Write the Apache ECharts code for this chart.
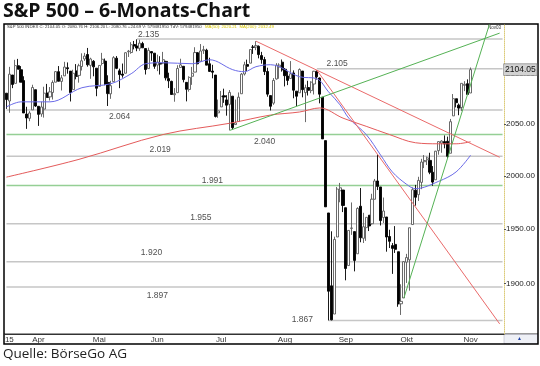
<!DOCTYPE html>
<html><head><meta charset="utf-8">
<script src="https://cdn.jsdelivr.net/npm/echarts@6/dist/echarts.min.js"></script>
<style>html,body{margin:0;padding:0;background:#fff}#c{width:540px;height:366px}</style>
</head><body><div id="c"></div>
<script>
// ---------- DATA ----------
const dates = [
'2015-03-17','2015-03-18','2015-03-19','2015-03-20','2015-03-23','2015-03-24','2015-03-25','2015-03-26','2015-03-27','2015-03-30','2015-03-31',
'2015-04-01','2015-04-02','2015-04-06','2015-04-07','2015-04-08','2015-04-09','2015-04-10','2015-04-13','2015-04-14','2015-04-15','2015-04-16','2015-04-17','2015-04-20','2015-04-21','2015-04-22','2015-04-23','2015-04-24','2015-04-27','2015-04-28','2015-04-29','2015-04-30',
'2015-05-01','2015-05-04','2015-05-05','2015-05-06','2015-05-07','2015-05-08','2015-05-11','2015-05-12','2015-05-13','2015-05-14','2015-05-15','2015-05-18','2015-05-19','2015-05-20','2015-05-21','2015-05-22','2015-05-26','2015-05-27','2015-05-28','2015-05-29',
'2015-06-01','2015-06-02','2015-06-03','2015-06-04','2015-06-05','2015-06-08','2015-06-09','2015-06-10','2015-06-11','2015-06-12','2015-06-15','2015-06-16','2015-06-17','2015-06-18','2015-06-19','2015-06-22','2015-06-23','2015-06-24','2015-06-25','2015-06-26','2015-06-29','2015-06-30',
'2015-07-01','2015-07-02','2015-07-06','2015-07-07','2015-07-08','2015-07-09','2015-07-10','2015-07-13','2015-07-14','2015-07-15','2015-07-16','2015-07-17','2015-07-20','2015-07-21','2015-07-22','2015-07-23','2015-07-24','2015-07-27','2015-07-28','2015-07-29','2015-07-30','2015-07-31',
'2015-08-03','2015-08-04','2015-08-05','2015-08-06','2015-08-07','2015-08-10','2015-08-11','2015-08-12','2015-08-13','2015-08-14','2015-08-17','2015-08-18','2015-08-19','2015-08-20','2015-08-21','2015-08-24','2015-08-25','2015-08-26','2015-08-27','2015-08-28','2015-08-31',
'2015-09-01','2015-09-02','2015-09-03','2015-09-04','2015-09-08','2015-09-09','2015-09-10','2015-09-11','2015-09-14','2015-09-15','2015-09-16','2015-09-17','2015-09-18','2015-09-21','2015-09-22','2015-09-23','2015-09-24','2015-09-25','2015-09-28','2015-09-29','2015-09-30',
'2015-10-01','2015-10-02','2015-10-05','2015-10-06','2015-10-07','2015-10-08','2015-10-09','2015-10-12','2015-10-13','2015-10-14','2015-10-15','2015-10-16','2015-10-19','2015-10-20','2015-10-21','2015-10-22','2015-10-23','2015-10-26','2015-10-27','2015-10-28','2015-10-29','2015-10-30',
'2015-11-02'];
const futureDates = ['2015-11-03','2015-11-04','2015-11-05','2015-11-06','2015-11-09','2015-11-10','2015-11-11','2015-11-12','2015-11-13','2015-11-16','2015-11-17'];

const open = [2080.59,2072.84,2098.69,2090.32,2107.99,2103.94,2093.10,2059.94,2055.78,2064.11,2084.05,
2067.63,2060.03,2064.87,2080.79,2076.94,2081.29,2091.51,2102.03,2092.28,2097.82,2105.96,2102.58,2084.11,2102.82,2098.27,2107.21,2114.76,2119.29,2108.35,2112.49,2105.52,
2087.38,2110.23,2112.63,2091.26,2079.96,2092.13,2115.56,2102.87,2099.62,2100.43,2122.07,2121.30,2129.45,2127.79,2125.55,2130.36,2125.34,2105.13,2122.27,2120.66,
2108.64,2110.41,2110.64,2112.35,2095.09,2092.34,2079.07,2081.12,2106.24,2107.43,2091.34,2084.26,2097.40,2101.58,2121.06,2112.50,2123.16,2123.65,2109.96,2102.62,2098.63,2061.19,
2067.00,2078.03,2073.95,2069.52,2077.66,2049.73,2052.74,2080.03,2099.72,2109.22,2110.55,2126.80,2126.85,2127.55,2118.21,2114.16,2102.24,2078.19,2070.75,2094.70,2106.78,2111.60,
2104.49,2097.68,2095.27,2100.75,2082.61,2080.98,2102.66,2081.10,2086.19,2083.15,2089.70,2101.99,2095.69,2076.61,2034.08,1965.15,1898.08,1872.75,1942.77,1986.06,1986.73,
1970.09,1916.52,1950.79,1947.76,1927.30,1971.45,1941.59,1951.45,1963.06,1955.10,1978.02,1995.33,1989.66,1960.84,1961.39,1943.24,1934.81,1935.93,1929.18,1881.90,1887.14,
1919.65,1921.77,1954.33,1986.63,1982.34,1994.01,2013.73,2015.65,2015.00,2003.66,1996.47,2024.37,2031.73,2033.13,2033.47,2021.88,2058.19,2075.08,2068.75,2066.48,2088.35,2090.00,
2080.76];
const close = [2074.28,2099.50,2089.27,2108.10,2104.42,2091.50,2061.05,2056.15,2061.02,2086.24,2067.89,
2059.69,2066.96,2080.62,2076.33,2081.90,2091.18,2102.06,2092.43,2095.84,2106.63,2104.99,2081.18,2100.40,2097.29,2107.96,2112.93,2117.69,2108.92,2114.76,2106.85,2085.51,
2108.29,2114.49,2089.46,2080.15,2088.00,2116.10,2105.33,2099.12,2098.48,2121.10,2122.73,2129.20,2127.83,2125.85,2130.82,2126.06,2104.20,2123.48,2120.79,2107.39,
2111.73,2109.60,2114.07,2095.84,2092.83,2079.28,2080.15,2105.20,2108.86,2094.11,2084.43,2096.29,2100.44,2121.24,2109.99,2122.85,2124.20,2108.58,2102.31,2101.49,2057.64,2063.11,
2077.42,2076.78,2068.76,2081.34,2046.68,2051.31,2076.62,2099.60,2108.95,2107.40,2124.29,2126.64,2128.28,2119.21,2114.15,2102.15,2079.65,2067.64,2093.25,2108.57,2108.63,2103.84,
2098.04,2093.32,2099.84,2083.56,2077.57,2104.18,2084.07,2086.05,2083.39,2091.54,2102.44,2096.92,2079.61,2035.73,1970.89,1893.21,1867.61,1940.51,1987.66,1988.87,1972.18,
1913.85,1948.86,1951.13,1921.22,1969.41,1942.04,1952.29,1961.05,1953.03,1978.09,1995.31,1990.20,1958.03,1966.97,1942.74,1938.76,1932.24,1931.34,1881.77,1884.09,1920.03,
1923.82,1951.36,1987.05,1979.92,1995.83,2013.43,2014.89,2017.46,2003.69,1994.24,2023.86,2033.11,2033.66,2030.77,2018.94,2052.51,2075.15,2071.18,2065.89,2090.35,2089.41,2079.36,
2104.05];
const low = [2065.08,2061.23,2085.56,2090.32,2104.42,2091.50,2061.05,2045.50,2052.96,2064.11,2067.04,
2048.38,2057.32,2056.52,2076.10,2073.30,2074.29,2091.51,2092.33,2083.24,2097.82,2100.02,2072.37,2084.11,2094.38,2091.05,2103.19,2112.80,2107.04,2094.89,2097.41,2077.59,
2087.38,2108.29,2088.46,2067.93,2074.99,2092.13,2104.58,2085.57,2096.04,2100.43,2116.81,2120.01,2124.50,2122.59,2122.95,2126.06,2099.18,2105.13,2112.86,2104.89,
2102.54,2099.14,2109.61,2093.23,2085.67,2079.11,2072.14,2081.12,2106.24,2091.33,2072.49,2082.10,2088.86,2101.58,2109.45,2112.50,2119.89,2108.58,2101.78,2095.38,2056.64,2056.32,
2067.00,2071.02,2058.40,2044.02,2044.66,2049.73,2052.74,2080.03,2098.18,2102.49,2110.55,2119.88,2123.66,2115.40,2110.05,2098.63,2077.09,2063.52,2069.09,2094.08,2094.97,2102.07,
2087.31,2088.60,2095.27,2075.53,2067.91,2080.98,2076.49,2052.09,2078.26,2080.61,2079.30,2094.14,2070.53,2035.73,1970.89,1867.01,1867.08,1872.75,1942.77,1975.19,1965.98,
1903.07,1916.52,1944.72,1911.21,1927.30,1937.88,1937.19,1939.19,1948.27,1954.30,1977.93,1986.73,1953.45,1955.80,1929.22,1932.57,1908.92,1928.05,1879.21,1871.91,1887.14,
1900.70,1893.70,1954.33,1971.99,1976.44,1987.53,2007.61,2010.55,2001.78,1990.73,1996.47,2020.46,2022.31,2026.61,2017.22,2021.88,2058.19,2066.53,2058.84,2063.11,2082.63,2079.34,
2080.76];
const high = [2080.59,2106.85,2098.69,2113.92,2114.86,2107.63,2097.43,2067.15,2062.83,2088.97,2084.05,
2067.63,2072.17,2086.99,2089.81,2086.69,2093.31,2102.61,2107.65,2098.62,2111.91,2111.30,2102.58,2103.94,2109.64,2109.98,2120.49,2120.92,2125.92,2116.04,2113.65,2105.52,
2108.41,2120.95,2115.24,2098.42,2092.90,2117.66,2117.69,2105.06,2110.19,2121.45,2123.89,2131.78,2133.02,2134.72,2134.28,2132.15,2125.34,2126.22,2122.27,2120.66,
2119.15,2117.59,2121.92,2112.89,2100.99,2093.01,2085.62,2108.50,2115.02,2107.43,2091.34,2097.40,2106.79,2126.65,2121.64,2129.87,2128.03,2125.10,2116.04,2108.92,2098.63,2074.28,
2082.78,2085.06,2078.61,2083.74,2077.66,2074.28,2081.31,2100.67,2111.98,2114.14,2124.42,2128.91,2132.82,2128.49,2121.97,2116.87,2106.01,2078.19,2095.60,2110.60,2110.48,2114.24,
2105.70,2102.51,2112.66,2103.32,2082.61,2105.35,2102.66,2089.06,2092.93,2092.45,2102.87,2103.47,2096.17,2076.61,2034.08,1965.15,1948.04,1943.09,1989.60,1993.48,1986.73,
1970.09,1948.91,1975.01,1947.76,1970.42,1988.63,1965.29,1961.05,1963.06,1983.19,1997.26,2020.86,1989.66,1979.64,1961.39,1949.52,1937.17,1952.89,1929.18,1899.48,1920.53,
1927.21,1951.36,1989.17,1991.62,1999.31,2016.50,2020.13,2018.66,2022.34,2009.56,2024.15,2033.54,2034.45,2039.12,2037.97,2055.20,2079.74,2075.14,2070.37,2090.35,2092.52,2094.32,
2106.20];

const monthNames = ['Jan','Feb','Mrz','Apr','Mai','Jun','Jul','Aug','Sep','Okt','Nov','Dez'];
const yearLabel = '15';
const yTicks = [1900, 1950, 2000, 2050, 2100];
const lastPrice = 2104.05;

// horizontal support / resistance levels
const levels      = [2135, 2105, 2064, 2040, 2019, 1991, 1955, 1920, 1897, 1867];
const levelLabels = ['2.135','2.105','2.064','2.040','2.019','1.991','1.955','1.920','1.897','1.867'];
const levelStart  = [45, 107, 0, 0, 0, 0, 0, 0, 0, 111];
const levelGreen  = [false,false,false,true,false,true,false,false,false,false];

// moving averages (category index, value)
const maShortIdx = [0, 5, 15, 26, 36, 43, 48, 54, 64, 70, 78, 82, 86, 91, 101, 107, 111, 115, 118, 124, 129, 133, 138, 141, 149, 155, 160];
const maShortVal = [2067, 2072, 2072, 2086, 2090, 2100, 2110, 2111, 2110, 2114, 2104, 2102, 2107, 2109, 2097, 2095, 2082, 2069, 2056, 2040, 2020, 2004, 1992, 1988, 1995, 2004, 2020];
const maLongIdx  = [0, 25, 54, 77, 91, 101, 108, 116, 124, 132, 141, 149, 155, 160];
const maLongVal  = [1999, 2016, 2040, 2051, 2059, 2062, 2066, 2056, 2048, 2040, 2032, 2031, 2031, 2033];

// trend lines (category index, value)
const redTrendA   = [[86, 2132.82], [170, 2018]];
const redTrendB   = [[107, 2103.47], [170, 1864]];
const greenTrendA = [[77, 2044.02], [170, 2141]];
const greenTrendB = [[137, 1887.14], [167, 2155]];

// ---------- LAYOUT ----------
const labelLayout = [[49,-4],[114,-5],[39,7],[89,7],[53,-7],[71,-5],[67,-6],[50,-9],[52,9],[102,-1]];

const categories = dates.concat(futureDates);
const lastIdx = categories.length - 1;
const monthStart = new Set([1]);
for (let i = 1; i < dates.length; i++) {
  if (dates[i].slice(5,7) !== dates[i-1].slice(5,7)) monthStart.add(i);
}
const FONT = 'Liberation Sans, Arial, sans-serif';

const series = [];
levels.forEach((v, k) => {
  series.push({
    type: 'line', silent: true, z: 1, symbol: 'none', animation: false,
    data: [[levelStart[k], v], [lastIdx, v]],
    lineStyle: { color: levelGreen[k] ? '#95cf95' : '#c6c6c6', width: 1.6 }
  });
});
series.push({
  type: 'candlestick', z: 2, barWidth: 2.6, animation: false,
  data: dates.map((d, i) => [open[i], close[i], low[i], high[i]]),
  itemStyle: { color: '#ffffff', color0: '#000000', borderColor: '#5a5a5a', borderColor0: '#000000', borderWidth: 0.9 },
  markLine: {
    silent: true, symbol: ['none','none'], animation: false,
    data: [{ yAxis: lastPrice }],
    lineStyle: { color: 'rgba(0,0,0,0)', width: 0 },
    label: { show: true, position: 'end', distance: 0, formatter: lastPrice.toFixed(2), fontFamily: FONT, fontSize: 8.5,
      color: '#111', backgroundColor: '#d2d2d2', borderColor: '#777', borderWidth: 0.6, padding: [1, 1, 1, 1] }
  }
});
const lineDefaults = { type: 'line', symbol: 'none', silent: true, z: 3, animation: false };
series.push(Object.assign({}, lineDefaults, { smooth: 0.35, data: maShortIdx.map((x, k) => [x, maShortVal[k]]), lineStyle: { color: '#6b6be8', width: 1 } }));
series.push(Object.assign({}, lineDefaults, { smooth: 0.35, data: maLongIdx.map((x, k) => [x, maLongVal[k]]), lineStyle: { color: '#e45b5b', width: 1 } }));
series.push(Object.assign({}, lineDefaults, { data: redTrendA, lineStyle: { color: '#ea6a6a', width: 1 } }));
series.push(Object.assign({}, lineDefaults, { data: redTrendB, lineStyle: { color: '#ea6a6a', width: 1 } }));
series.push(Object.assign({}, lineDefaults, { data: greenTrendA, lineStyle: { color: '#55b255', width: 1 } }));
series.push(Object.assign({}, lineDefaults, { data: greenTrendB, lineStyle: { color: '#55b255', width: 1 } }));
series.push({
  type: 'scatter', silent: true, z: 4, symbolSize: 0, animation: false,
  data: levels.map((v, k) => ({
    value: [labelLayout[k][0], v],
    label: { show: true, position: 'inside', offset: [0, labelLayout[k][1]], formatter: levelLabels[k],
      fontFamily: FONT, fontSize: 8.5, color: '#222' }
  }))
});

const chart = echarts.init(document.getElementById('c'), null, { renderer: 'canvas' });
chart.setOption({
  animation: false,
  backgroundColor: '#ffffff',
  grid: { left: 5, right: 36, top: 25, bottom: 32 },
  xAxis: {
    type: 'category', data: categories, boundaryGap: true,
    axisLine: { show: true, lineStyle: { color: '#333', width: 1 } },
    axisTick: { show: false },
    splitLine: { show: false },
    axisLabel: {
      interval: (idx) => monthStart.has(idx),
      formatter: (val, idx) => idx === 1 ? yearLabel : monthNames[parseInt(val.slice(5,7), 10) - 1],
      fontFamily: FONT, fontSize: 8, color: '#333', margin: 2
    }
  },
  yAxis: {
    type: 'log', logBase: 10, min: 1855, max: 2149.3, position: 'right',
    axisLine: { show: true, lineStyle: { color: '#dccb7a', type: 'dotted', width: 1 } },
    axisTick: { show: true, length: 2, customValues: yTicks, lineStyle: { color: '#555' } },
    splitLine: { show: false },
    axisLabel: { customValues: yTicks, formatter: (v) => Number(v).toFixed(2), fontFamily: FONT, fontSize: 8, color: '#222', margin: 2 }
  },
  series: series,
  graphic: [
    { type: 'text', left: 3, top: 1, style: { text: 'S&P 500 – 6-Monats-Chart', font: 'bold 19.5px "Open Sans", sans-serif', fill: '#111' } },
    { type: 'text', left: 3, top: 347, style: { text: 'Quelle: BörseGo AG', font: '13.5px "Open Sans", sans-serif', fill: '#222' } },
    { type: 'text', left: 7, top: 25, style: { text: 'S&P 500 INDEX C: 2104.05 O: 2080.76 H: 2106.20 L: 2080.76 +24.69 V: 579481950 TdV: 579481950', font: '4.3px "Liberation Sans Narrow", "Liberation Sans", sans-serif', fill: '#333' } },
    { type: 'text', left: 205, top: 25, style: { text: 'MA(50): 2020.21  MA(200): 2032.49', font: '4.3px "Liberation Sans Narrow", "Liberation Sans", sans-serif', fill: '#d6c400' } },
    { type: 'text', left: 488, top: 25, style: { text: 'Nov03', font: '4.5px "Liberation Sans", sans-serif', fill: '#333' } },
    { type: 'line', shape: { x1: 4, y1: 334, x2: 538, y2: 334 }, style: { stroke: '#333', lineWidth: 1 } },
    { type: 'rect', shape: { x: 504, y: 334.5, width: 33.5, height: 9 }, style: { fill: '#eef0f6', stroke: '#aab', lineWidth: 0.5 } },
    { type: 'text', left: 517, top: 336, style: { text: '▲', font: '5px sans-serif', fill: '#2244aa' } },
    { type: 'rect', shape: { x: 4, y: 24, width: 534, height: 320 }, style: { fill: 'none', stroke: '#000', lineWidth: 1.5 } }
  ]
});
</script></body></html>
